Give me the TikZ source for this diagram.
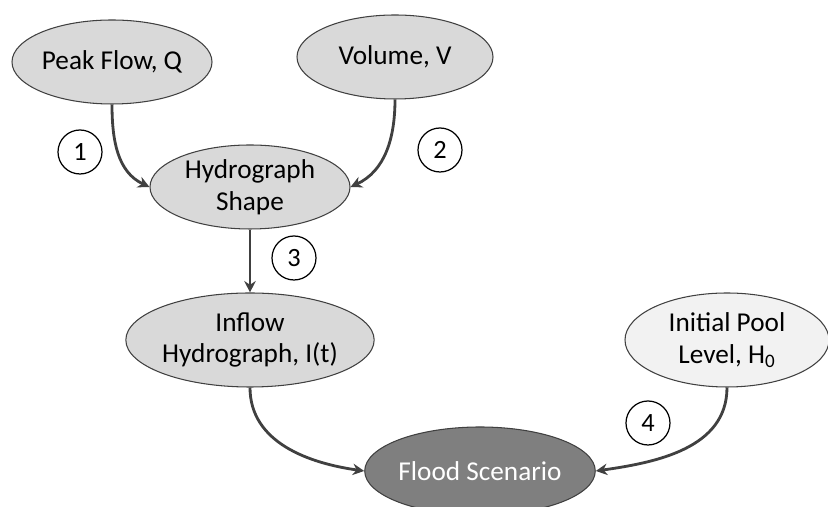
\documentclass[tikz,border=0pt]{standalone}
\usepackage{fontspec}
\setmainfont{Carlito}
\usetikzlibrary{arrows.meta,positioning,shapes.geometric}
\definecolor{varfill}{HTML}{D9D9D9}
\definecolor{poolfill}{HTML}{F2F2F2}
\definecolor{outfill}{HTML}{7F7F7F}
\definecolor{edge}{HTML}{404040}

\begin{document}
\begin{tikzpicture}[>={Stealth[length=6.5pt,width=6.5pt]},
  var/.style={draw=edge, line width=0.6pt, ellipse, fill=varfill, inner sep=0pt,
    minimum width=4cm, minimum height=1.68cm, align=center, font=\fontsize{15.5}{18}\selectfont},
  num/.style={draw, circle, fill=white, line width=0.7pt, minimum size=0.88cm, inner sep=0pt,
    font=\fontsize{15}{16}\selectfont},
  link/.style={->, draw=edge, line width=1.6pt}]
  \useasboundingbox (0,0) rectangle (16.56,10.14);
  \node[var] (peak) at (2.24,8.9) {Peak Flow, Q};
  \node[var, minimum width=3.92cm] (vol) at (7.9,9.0) {Volume, V};
  \node[var] (shape) at (5.0,6.4) {Hydrograph\\Shape};
  \node[var, minimum width=4.28cm, minimum height=1.88cm] (inflow) at (5.0,3.34) {Inflow\\Hydrograph, I(t)};
  \node[var, fill=poolfill, minimum width=4.08cm, minimum height=1.88cm] (pool) at (14.54,3.34) {Initial Pool\\Level, H\textsubscript{0}};
  \node[var, fill=outfill, text=white, minimum height=1.76cm] (flood) at (9.6,0.72) {Flood Scenario};
  \draw[link] (peak.south) to[out=-90, in=155] (shape.west);
  \draw[link] (vol.south) to[out=-90, in=25] (shape.east);
  \draw[link] (shape.south) -- (inflow.north);
  \draw[link] (inflow.south) to[out=-90, in=172] (flood.west);
  \draw[link] (pool.south) to[out=-90, in=8] (flood.east);
  \node[num] (n1) at (1.6,7.1) {1};
  \node[num] (n2) at (8.8,7.14) {2};
  \node[num] (n3) at (5.88,4.98) {3};
  \node[num] (n4) at (12.96,1.68) {4};
\end{tikzpicture}
\end{document}
